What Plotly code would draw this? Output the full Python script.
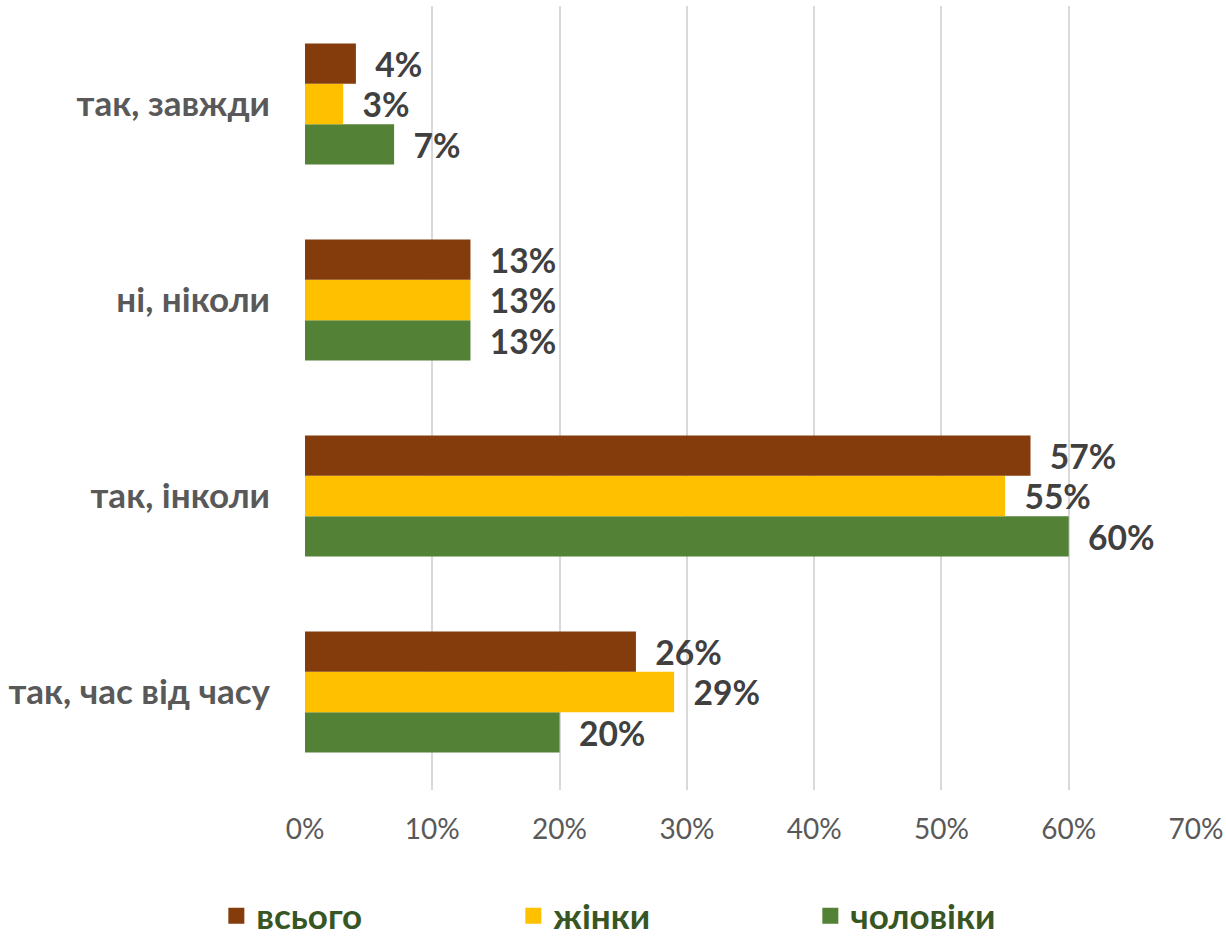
import plotly.graph_objects as go

# Survey answers, bottom-to-top as drawn on the category axis
categories = ["так, час від часу", "так, інколи", "ні, ніколи", "так, завжди"]

# Shares in percent for each group
vsoho = [26, 57, 13, 4]
zhinky = [29, 55, 13, 3]
choloviky = [20, 60, 13, 7]

series = [
    ("чоловіки", choloviky, "#538135"),
    ("жінки", zhinky, "#FFC000"),
    ("всього", vsoho, "#843C0C"),
]

x_ticks = [0, 10, 20, 30, 40, 50, 60, 70]

FONT = "Lato"

fig = go.Figure()
for name, vals, color in series:
    fig.add_trace(go.Bar(
        y=categories,
        x=vals,
        name=name,
        orientation="h",
        marker=dict(color=color, line=dict(width=0)),
        text=[f"{v}%" for v in vals],
        texttemplate="  %{text}",
        textposition="outside",
        textfont=dict(family=FONT, size=35, color="#404040", weight="bold"),
        cliponaxis=False,
        showlegend=False,
    ))

# Legend entries drawn as large square swatches
for name, _, color in reversed(series):
    fig.add_trace(go.Scatter(
        x=[None], y=[None],
        mode="markers",
        name=name,
        marker=dict(symbol="square", size=22, color=color),
    ))

fig.update_layout(
    width=1226,
    height=939,
    barmode="group",
    bargap=0.383,
    bargroupgap=0,
    plot_bgcolor="white",
    paper_bgcolor="white",
    margin=dict(l=305, r=30, t=6, b=149, autoexpand=False),
    font=dict(family=FONT),
    legend=dict(
        orientation="h",
        x=-0.0995,
        xanchor="left",
        y=-0.1607,
        yanchor="middle",
        entrywidth=252,
        entrywidthmode="pixels",
        itemwidth=30,
        font=dict(family=FONT, size=35, color="#375623", weight="bold"),
    ),
    xaxis=dict(
        range=[0, 70],
        tickvals=x_ticks,
        ticktext=[f"{t}%" for t in x_ticks],
        showgrid=True,
        gridcolor="#D9D9D9",
        gridwidth=2,
        zeroline=False,
        showline=False,
        tickfont=dict(family=FONT, size=28, color="#595959"),
        ticks="",
        ticklabelstandoff=20,
    ),
    yaxis=dict(
        categoryorder="array",
        categoryarray=categories,
        showgrid=False,
        zeroline=False,
        showline=False,
        ticks="",
        ticklabelstandoff=34,
        tickfont=dict(family=FONT, size=35, color="#595959", weight="bold"),
    ),
)

fig.write_html("out.html")
